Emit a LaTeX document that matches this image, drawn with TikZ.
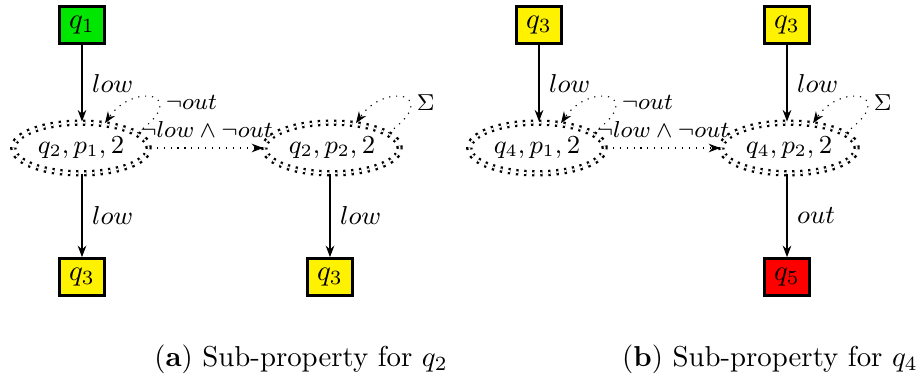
\documentclass[tikz,border=0pt]{standalone}
\usetikzlibrary{shapes.geometric,arrows.meta}
\definecolor{qgreen}{RGB}{0,230,0}
\definecolor{qyellow}{RGB}{255,242,0}
\definecolor{qred}{RGB}{255,0,0}
\begin{document}
\begin{tikzpicture}[x=0.3472pt,y=-0.3472pt,
  box/.style={draw, line width=1pt, minimum width=15.8pt, minimum height=12.8pt, inner sep=0pt},
  st/.style={ellipse, draw, thick, dotted, double, minimum width=47pt, minimum height=17.6pt, inner sep=0pt, font=\small},
  tr/.style={-{Stealth[length=4pt,width=3pt]}, thin},
  dtr/.style={-{Stealth[length=4pt,width=3pt]}, thin, dotted},
  lbl/.style={font=\fontsize{9}{10}\selectfont},
  llbl/.style={pos=0.35, anchor=west, inner sep=2pt, font=\fontsize{8.5}{10}\selectfont}]
\useasboundingbox (0,0) rectangle (919,378);

% (a)
\node[box, fill=qgreen] (a1) at (82,25) {$q_1$};
\node[st] (a2) at (81,148) {$q_2, p_1, 2$};
\node[st] (a3) at (332,148) {$q_2, p_2, 2$};
\node[box, fill=qyellow] (a4) at (82,277) {$q_3$};
\node[box, fill=qyellow] (a5) at (330,277) {$q_3$};

\draw[tr] (a1.south) -- node[right, lbl] {$low$} (a1.south |- a2.north);
\draw[tr] (a2.south -| a4.north) -- node[right, lbl] {$low$} (a4.north);
\draw[tr] (a3.south -| a5.north) -- node[right, lbl] {$low$} (a5.north);
\draw[dtr] (a2.15) .. controls +(55,-40) and +(28,-41) .. node[llbl] {$\neg out$} (a2.46);
\draw[dtr] (a3.15) .. controls +(55,-40) and +(28,-41) .. node[llbl] {$\Sigma$} (a3.46);
\draw[dtr] (a2.east) -- node[above, font=\fontsize{8.5}{10}\selectfont] {$\neg low \wedge \neg out$} (a3.west);
\node[anchor=base] (capa) at (301,366) {(\textbf{a}) Sub-property for $q_2$};

% (b)
\node[box, fill=qyellow] (b1) at (539,25) {$q_3$};
\node[box, fill=qyellow] (b6) at (787,25) {$q_3$};
\node[st] (b2) at (537,148) {$q_4, p_1, 2$};
\node[st] (b3) at (789,148) {$q_4, p_2, 2$};
\node[box, fill=qred] (b5) at (787,277) {$q_5$};

\draw[tr] (b1.south) -- node[right, lbl] {$low$} (b1.south |- b2.north);
\draw[tr] (b6.south) -- node[right, lbl] {$low$} (b6.south |- b3.north);
\draw[tr] (b3.south -| b5.north) -- node[right, lbl] {$out$} (b5.north);
\draw[dtr] (b2.15) .. controls +(55,-40) and +(28,-41) .. node[llbl] {$\neg out$} (b2.46);
\draw[dtr] (b3.15) .. controls +(55,-40) and +(28,-41) .. node[llbl] {$\Sigma$} (b3.46);
\draw[dtr] (b2.east) -- node[above, font=\fontsize{8.5}{10}\selectfont] {$\neg low \wedge \neg out$} (b3.west);
\node[anchor=base] (capb) at (770,366) {(\textbf{b}) Sub-property for $q_4$};
\end{tikzpicture}
\end{document}
